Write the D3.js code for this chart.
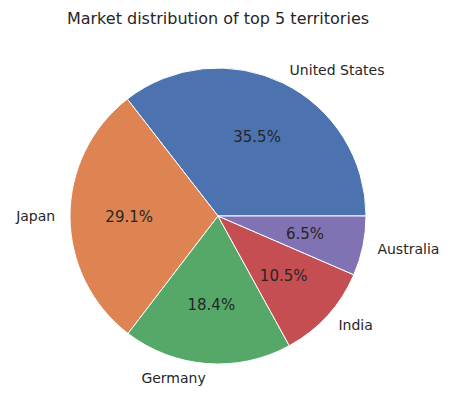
<!DOCTYPE html>
<html lang="en">
<head>
  <meta charset="UTF-8">
  <script src="https://d3js.org/d3.v7.min.js"></script>
  <style>
    body { margin: 0; background: white; font-family: "DejaVu Sans", sans-serif; }
    text { fill: #262626; }
  </style>
</head>
<body>
  <svg width="455" height="411"></svg>
  <script>
    const territories = ["United States", "Japan", "Germany", "India", "Australia"];
    const shares = [35.5, 29.1, 18.4, 10.5, 6.5];
    const colors = ["#4c72b0", "#dd8452", "#55a868", "#c44e52", "#8172b3"];

    const svg = d3.select("svg");
    const cx = 218, cy = 216, r = 148;

    svg.append("text")
      .attr("x", cx).attr("y", 24)
      .attr("text-anchor", "middle")
      .style("font-size", "16px")
      .text("Market distribution of top 5 territories");

    const g = svg.append("g").attr("transform", `translate(${cx},${cy})`);

    // matplotlib: start at 3 o'clock, counterclockwise
    const pie = d3.pie().sort(null)
      .startAngle(Math.PI / 2)
      .endAngle(Math.PI / 2 - 2 * Math.PI);
    const arcs = pie(shares);

    const arc = d3.arc().innerRadius(0).outerRadius(r);
    const pctArc = d3.arc().innerRadius(r * 0.6).outerRadius(r * 0.6);
    const labelArc = d3.arc().innerRadius(r * 1.1).outerRadius(r * 1.1);

    g.selectAll("path.slice")
      .data(arcs)
      .enter().append("path")
      .attr("class", "slice")
      .attr("d", arc)
      .attr("fill", (d, i) => colors[i])
      .attr("stroke", "white")
      .attr("stroke-width", 1);

    g.selectAll("text.pct")
      .data(arcs)
      .enter().append("text")
      .attr("class", "pct")
      .attr("transform", d => `translate(${pctArc.centroid(d)})`)
      .attr("text-anchor", "middle")
      .attr("dy", "0.35em")
      .style("font-size", "15px")
      .text(d => d.data.toFixed(1) + "%");

    g.selectAll("text.label")
      .data(arcs)
      .enter().append("text")
      .attr("class", "label")
      .attr("transform", d => `translate(${labelArc.centroid(d)})`)
      .attr("text-anchor", d => labelArc.centroid(d)[0] > 0 ? "start" : "end")
      .attr("dy", "0.35em")
      .style("font-size", "14px")
      .text((d, i) => territories[i]);
  </script>
</body>
</html>
